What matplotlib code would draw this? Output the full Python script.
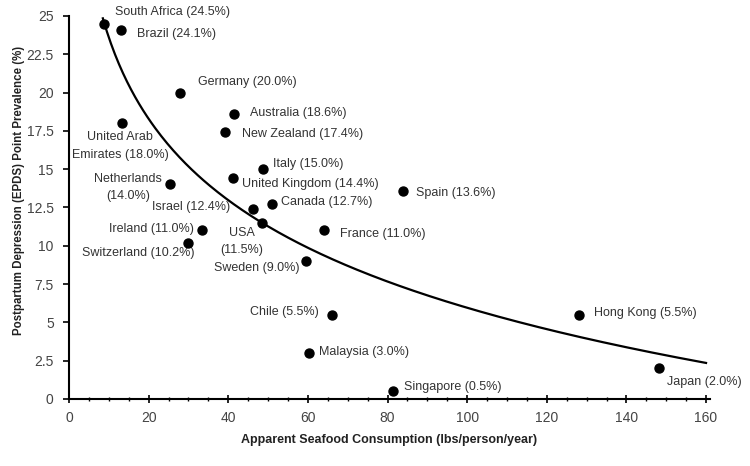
import numpy as np
import matplotlib
matplotlib.use("Agg")
import matplotlib.pyplot as plt
from matplotlib.ticker import MultipleLocator

countries = ["South Africa", "Brazil", "Germany", "Australia", "New Zealand",
             "United Arab\nEmirates", "Italy", "United Kingdom", "Netherlands\n",
             "Spain", "Canada", "Israel", "USA\n", "France", "Ireland",
             "Switzerland", "Sweden", "Chile", "Malaysia", "Singapore",
             "Hong Kong", "Japan"]
seafood = [8.8, 13.0, 28.0, 41.5, 39.3, 13.3, 48.8, 41.3, 25.3, 84.0, 51.0,
           46.3, 48.5, 64.0, 33.5, 29.8, 59.5, 66.0, 60.3, 81.3, 128.0, 148.3]
prevalence = [24.5, 24.1, 20.0, 18.6, 17.4, 18.0, 15.0, 14.4, 14.0, 13.6, 12.7,
              12.4, 11.5, 11.0, 11.0, 10.2, 9.0, 5.5, 3.0, 0.5, 5.5, 2.0]

# label layout: (dx px, dy px, ha)
layout = [(11, 12, "left"), (16, -4, "left"), (18, 11, "left"), (16, 1, "left"),
          (17, -2, "left"), (-2, -23, "center"), (10, 5, "left"), (9, -6, "left"),
          (-42, -3, "center"), (13, -2, "left"), (9, 2, "left"), (-23, 2, "right"),
          (-20, -19, "center"), (16, -4, "left"), (-9, 1, "right"), (7, -10, "right"),
          (-6, -7, "right"), (-13, 3, "right"), (10, 1, "left"), (11, 4, "left"),
          (15, 2, "left"), (8, -14, "left")]

plt.rcParams['font.family'] = ['Liberation Sans', 'DejaVu Sans']
fig = plt.figure(figsize=(7.5, 4.66), dpi=100)
ax = fig.add_axes([0.092, 0.1438, 0.8547, 0.822])

x = np.array(seafood)
y = np.array(prevalence)
b, a = np.polyfit(np.log(x), y, 1)
xc = np.linspace(8.5, 160, 300)
ax.plot(xc, a + b * np.log(xc), color="black", lw=1.6, zorder=2)

ax.scatter(x, y, s=42, color="black", zorder=3)

for name, yv, xv, (dx, dy, ha) in zip(countries, prevalence, seafood, layout):
    if name.endswith("\n"):
        label = f"{name}({yv:.1f}%)"
    else:
        label = f"{name} ({yv:.1f}%)"
    ax.annotate(label, (xv, yv), xytext=(dx, dy), textcoords="offset pixels",
                ha=ha, va="center", multialignment="center", fontsize=9,
                color="#333333", linespacing=1.6, zorder=1)

ax.set_xlim(0, 161)
ax.set_ylim(0, 25)
ax.xaxis.set_major_locator(MultipleLocator(20))
ax.xaxis.set_minor_locator(MultipleLocator(5))
ax.set_yticks([0, 2.5, 5, 7.5, 10, 12.5, 15, 17.5, 20, 22.5, 25])
ax.set_yticklabels(["0", "2.5", "5", "7.5", "10", "12.5", "15", "17.5", "20", "22.5", "25"])
ax.spines["top"].set_visible(False)
ax.spines["right"].set_visible(False)
ax.spines["left"].set_linewidth(1.5)
ax.spines["bottom"].set_linewidth(1.5)
ax.tick_params(axis="x", which="major", direction="inout", length=6, width=1.2,
               labelsize=10, labelcolor="#444444", pad=6)
ax.tick_params(axis="x", which="minor", direction="inout", length=3, width=1)
ax.tick_params(axis="y", which="major", direction="out", length=4, width=1.2,
               labelsize=10, labelcolor="#444444", pad=7)
ax.set_xlabel("Apparent Seafood Consumption (lbs/person/year)", fontsize=9,
              fontweight="bold", color="#222222", labelpad=6)
fig.text(19 / 750, 1 - 190 / 466, "Postpartum Depression (EPDS) Point Prevalence (%)",
         rotation=90, ha="center", va="center", fontsize=8.3,
         fontweight="bold", color="#222222")

fig.savefig("out.png", dpi=100)
